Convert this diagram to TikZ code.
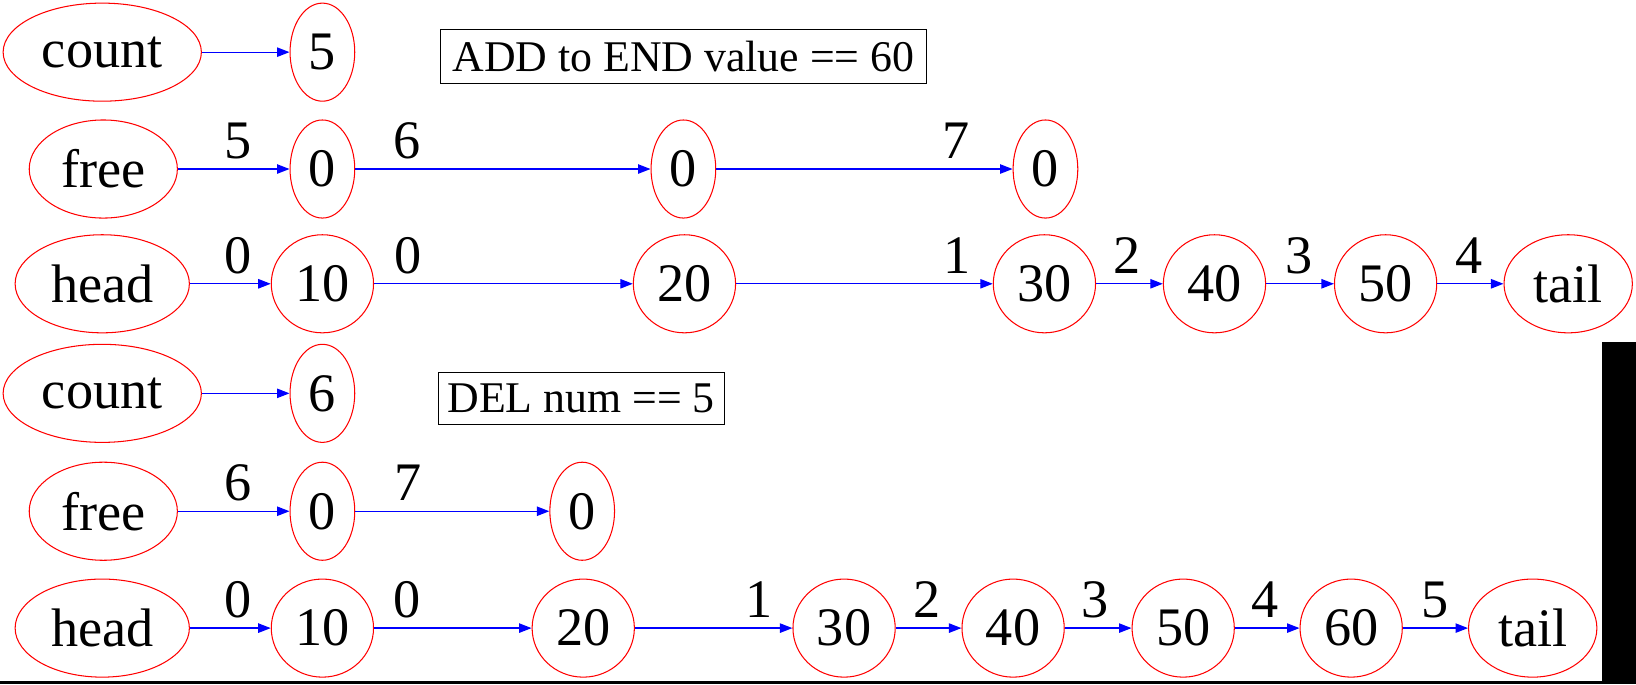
\documentclass[tikz,border=0pt]{standalone}
\usepackage{fontspec}
\setmainfont{Liberation Serif}
\usetikzlibrary{shapes,arrows.meta,positioning}

\tikzset{
  cell/.style={ellipse,draw=red,line width=0.5pt,inner sep=0pt,minimum height=47pt,font=\fontsize{26}{26}\selectfont},
  link/.style={draw=blue,line width=0.6pt,-{Triangle[length=6pt,width=4.5pt]}},
  elbl/.style={font=\fontsize{26}{26}\selectfont,yshift=13.5pt,inner sep=0pt},
  note/.style={rectangle,draw,line width=0.5pt,inner sep=0pt,font=\fontsize{21}{21}\selectfont}
}

\begin{document}
\begin{tikzpicture}[x=0.5pt,y=-0.5pt]
  \useasboundingbox (0,0) rectangle (1568,656);

  % Before: count, free list, list
  \node[cell,minimum width=95pt] (cnt1) at (98,50) {count};
  \node[cell,minimum width=31pt] (cnt1v) at (309,50) {5};
  \node[note,minimum width=233pt,minimum height=26pt] (op1) at (655,54) {ADD to END value == 60};

  \node[cell,minimum width=71pt] (free1) at (99,162) {free};
  \node[cell,minimum width=31pt] (fa1) at (309,162) {0};
  \node[cell,minimum width=31pt] (fb1) at (655,162) {0};
  \node[cell,minimum width=31pt] (fc1) at (1002,162) {0};

  \node[cell,minimum width=83.5pt] (head1) at (98,272) {head};
  \node[cell,minimum width=49pt] (n10a) at (309,272) {10};
  \node[cell,minimum width=49pt] (n20a) at (656,272) {20};
  \node[cell,minimum width=49pt] (n30a) at (1001,272) {30};
  \node[cell,minimum width=49pt] (n40a) at (1164,272) {40};
  \node[cell,minimum width=49pt] (n50a) at (1328,272) {50};
  \node[cell,minimum width=61.5pt] (tail1) at (1503,272) {tail};

  \draw[link] (cnt1) -- (cnt1v);
  \draw[link] (free1) -- node[elbl,pos=0.54] {5} (fa1);
  \draw[link] (fa1) -- node[elbl,pos=0.175] {6} (fb1);
  \draw[link] (fb1) -- node[elbl,pos=0.81] {7} (fc1);
  \draw[link] (head1) -- node[elbl,pos=0.59] {0} (n10a);
  \draw[link] (n10a) -- node[elbl,pos=0.13] {0} (n20a);
  \draw[link] (n20a) -- node[elbl,pos=0.86] {1} (n30a);
  \draw[link] (n30a) -- node[elbl,pos=0.46] {2} (n40a);
  \draw[link] (n40a) -- node[elbl,pos=0.48] {3} (n50a);
  \draw[link] (n50a) -- node[elbl,pos=0.48] {4} (tail1);

  % After: count, free list, list
  \node[cell,minimum width=95pt] (cnt2) at (98,377) {count};
  \node[cell,minimum width=31pt] (cnt2v) at (309,377) {6};
  \node[note,minimum width=137pt,minimum height=25pt] (op2) at (557,382) {DEL num == 5};

  \node[cell,minimum width=71pt] (free2) at (99,490) {free};
  \node[cell,minimum width=31pt] (fa2) at (309,490) {0};
  \node[cell,minimum width=31pt] (fb2) at (558,490) {0};

  \node[cell,minimum width=83.5pt] (head2) at (98,602) {head};
  \node[cell,minimum width=49pt] (n10b) at (309,602) {10};
  \node[cell,minimum width=49pt] (n20b) at (559,602) {20};
  \node[cell,minimum width=49pt] (n30b) at (809,602) {30};
  \node[cell,minimum width=49pt] (n40b) at (971,602) {40};
  \node[cell,minimum width=49pt] (n50b) at (1134,602) {50};
  \node[cell,minimum width=49pt] (n60b) at (1295,602) {60};
  \node[cell,minimum width=61.5pt] (tail2) at (1469,602) {tail};

  \draw[link] (cnt2) -- (cnt2v);
  \draw[link] (free2) -- node[elbl,pos=0.54] {6} (fa2);
  \draw[link] (fa2) -- node[elbl,pos=0.27] {7} (fb2);
  \draw[link] (head2) -- node[elbl,pos=0.59] {0} (n10b);
  \draw[link] (n10b) -- node[elbl,pos=0.21] {0} (n20b);
  \draw[link] (n20b) -- node[elbl,pos=0.79] {1} (n30b);
  \draw[link] (n30b) -- node[elbl,pos=0.47] {2} (n40b);
  \draw[link] (n40b) -- node[elbl,pos=0.46] {3} (n50b);
  \draw[link] (n50b) -- node[elbl,pos=0.47] {4} (n60b);
  \draw[link] (n60b) -- node[elbl,pos=0.49] {5} (tail2);

  % black margin strips
  \fill (1535,328) rectangle (1568,656);
  \fill (0,653) rectangle (1568,656);
\end{tikzpicture}
\end{document}
